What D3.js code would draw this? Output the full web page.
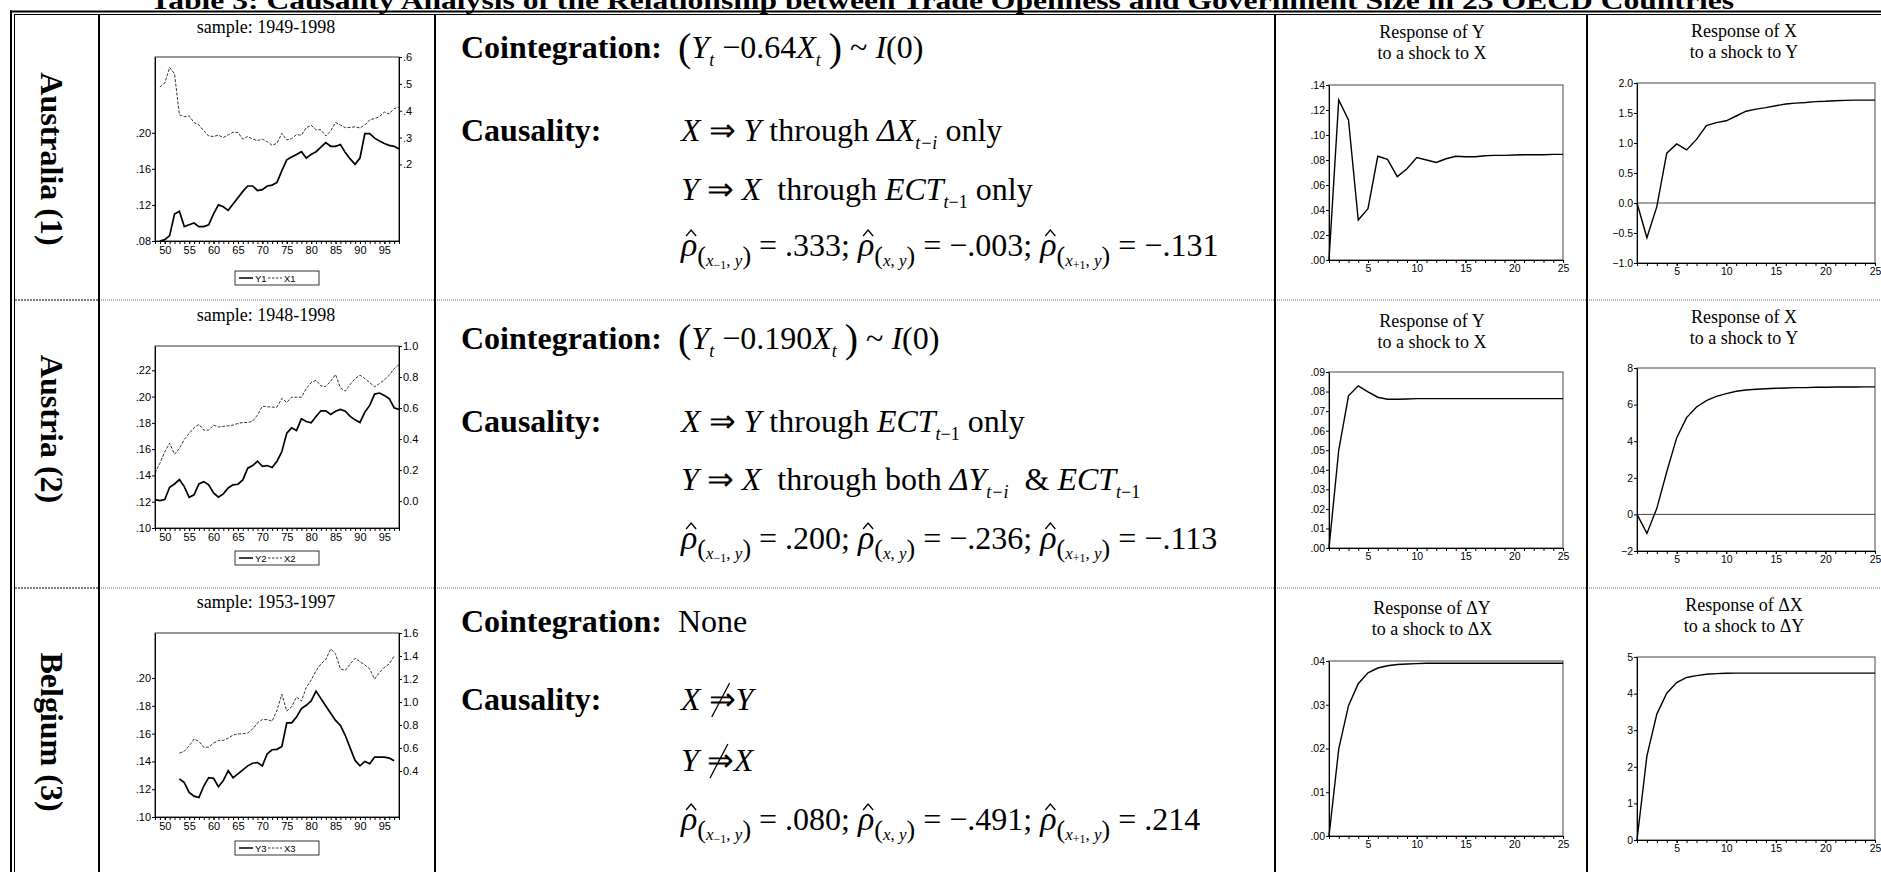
<!DOCTYPE html>
<html>
<head>
<meta charset="utf-8">
<script src="https://cdn.jsdelivr.net/npm/d3@7"></script>
<style>
body { margin: 0; background: #fff; }
text { fill: #000; }
</style>
</head>
<body>
<script>
// ---------- data ----------
const title = "Table 3:  Causality Analysis of the Relationship between Trade Openness and Government Size in 23 OECD Countries";
const countries = ["Australia (1)", "Austria (2)", "Belgium (3)"];
const samples = ["sample: 1949-1998", "sample: 1948-1998", "sample: 1953-1997"];
const startYears = [1949, 1948, 1953];
const yNames = ["Y1", "Y2", "Y3"];
const xNames = ["X1", "X2", "X3"];

// government size (left scale), trade openness (right scale)
const y1 = [.080,.0815,.086,.110,.113,.096,.098,.100,.096,.096,.098,.110,.120,.118,.114,.121,.128,.135,.141,.141,.136,.137,.141,.142,.145,.158,.170,.173,.176,.179,.172,.176,.179,.184,.189,.185,.185,.187,.178,.171,.165,.172,.199,.199,.194,.191,.188,.186,.185,.182];
const x1 = [.488,.503,.561,.538,.385,.378,.381,.356,.347,.325,.306,.304,.309,.300,.310,.320,.319,.294,.304,.294,.289,.294,.285,.271,.279,.316,.291,.296,.311,.309,.337,.346,.329,.329,.306,.325,.356,.347,.337,.338,.340,.336,.347,.366,.371,.378,.395,.388,.408,.413];
const y2 = [.1216,.1208,.1216,.131,.1335,.1368,.1315,.1234,.1252,.1335,.1353,.1328,.1267,.1234,.126,.1305,.1328,.1333,.1366,.1455,.1475,.1508,.147,.1475,.146,.1508,.1582,.1722,.1762,.1742,.1831,.181,.18,.1849,.1892,.1892,.1864,.1889,.1902,.1889,.1849,.1823,.1803,.1882,.1933,.2019,.2027,.2009,.1984,.1915,.1902];
const x2 = [.182,.244,.319,.373,.302,.340,.398,.437,.473,.495,.458,.458,.490,.478,.482,.486,.490,.501,.507,.507,.516,.555,.612,.608,.606,.606,.662,.636,.670,.670,.670,.726,.764,.779,.743,.739,.773,.816,.730,.709,.752,.790,.812,.790,.764,.737,.758,.782,.812,.854,.880];
const y3 = [.1274,.1247,.1177,.115,.114,.1223,.1283,.1278,.1218,.1262,.1334,.1283,.131,.1339,.1368,.1387,.1392,.1368,.1455,.1484,.1487,.1508,.1678,.1678,.1719,.178,.1804,.1835,.1906,.1852,.1799,.1746,.1695,.1659,.1586,.1496,.1407,.1368,.14,.1383,.1431,.1431,.1431,.1424,.1404];
const x3 = [.555,.572,.619,.678,.657,.607,.607,.643,.666,.666,.686,.713,.722,.724,.730,.765,.818,.847,.847,.833,.929,1.067,.921,.959,1.044,1.008,1.126,1.190,1.272,1.331,1.369,1.462,1.418,1.287,1.275,1.331,1.380,1.351,1.322,1.287,1.199,1.257,1.301,1.331,1.398];
const ySeries = [y1, y2, y3];
const xSeries = [x1, x2, x3];
const leftDomains = [[.08, .284], [.10, .2385], [.10, .2324]];
const rightDomains = [[-.085, .6], [-.173, 1.0], [0, 1.6]];
const leftTicks = [[.08,.12,.16,.20], [.10,.12,.14,.16,.18,.20,.22], [.10,.12,.14,.16,.18,.20]];
const rightTicks = [[.2,.3,.4,.5,.6], [0,.2,.4,.6,.8,1.0], [.4,.6,.8,1.0,1.2,1.4,1.6]];

// text column
const cointCoef = ["0.64", "0.190", null];
const rhoLag  = [".333", ".200", ".080"];
const rho0    = ["\u2212.003", "\u2212.236", "\u2212.491"];
const rhoLead = ["\u2212.131", "\u2212.113", ".214"];
const causality = [
  [[["X","i"],[" \u21D2 ","r"],["Y","i"],[" through ","r"],["\u0394X","i"],["t\u2212i","si"],[" only","r"]],
   [["Y","i"],[" \u21D2 ","r"],["X","i"],["  through ","r"],["ECT","i"],["t","si"],["\u22121","sr"],[" only","r"]]],
  [[["X","i"],[" \u21D2 ","r"],["Y","i"],[" through ","r"],["ECT","i"],["t","si"],["\u22121","sr"],[" only","r"]],
   [["Y","i"],[" \u21D2 ","r"],["X","i"],["  through both ","r"],["\u0394Y","i"],["t\u2212i","si"],["  & ","r"],["ECT","i"],["t","si"],["\u22121","sr"]]],
  [[["X","i"],[" ","r"],["\u21D2","n"],["Y","i"]],
   [["Y","i"],[" ","r"],["\u21D2","n"],["X","i"]]]
];

// impulse responses, periods 1..25
const periods = d3.range(1, 26);
const irfA = [
  [0,.128,.112,.032,.041,.083,.0805,.0667,.073,.082,.080,.078,.081,.083,.0826,.0826,.0834,.0837,.0837,.084,.0842,.0842,.0842,.0845,.0845],
  [0,.0501,.0778,.0829,.0798,.0771,.0761,.0761,.0762,.0764,.0764,.0764,.0764,.0764,.0764,.0764,.0764,.0764,.0764,.0764,.0764,.0764,.0764,.0764,.0764],
  [0,.0199,.0298,.0348,.0373,.0384,.0389,.0392,.0393,.0394,.0395,.0395,.0395,.0395,.0395,.0395,.0395,.0395,.0395,.0395,.0395,.0395,.0395,.0395,.0395]
];
const irfB = [
  [0,-.58,-.06,.83,.985,.885,1.06,1.29,1.34,1.37,1.45,1.53,1.565,1.59,1.62,1.65,1.665,1.675,1.69,1.695,1.705,1.71,1.715,1.715,1.715],
  [0,-1.04,.33,2.33,4.18,5.29,5.87,6.22,6.45,6.6,6.73,6.8,6.84,6.87,6.89,6.91,6.93,6.93,6.95,6.95,6.96,6.96,6.96,6.97,6.97],
  [0,2.3,3.44,4.01,4.3,4.44,4.49,4.53,4.545,4.555,4.56,4.56,4.56,4.56,4.56,4.56,4.56,4.56,4.56,4.56,4.56,4.56,4.56,4.56,4.56]
];
const irfADomains = [[0,.14], [0,.09], [0,.04]];
const irfBDomains = [[-1,2], [-2,8], [0,5]];
const irfATicks = [[0,.02,.04,.06,.08,.10,.12,.14], [0,.01,.02,.03,.04,.05,.06,.07,.08,.09], [0,.01,.02,.03,.04]];
const irfBTicks = [[-1,-.5,0,.5,1,1.5,2], [-2,0,2,4,6,8], [0,1,2,3,4,5]];
const irfATitles = [["Response of Y","to a shock to X"], ["Response of Y","to a shock to X"], ["Response of \u0394Y","to a shock to \u0394X"]];
const irfBTitles = [["Response of X","to a shock to Y"], ["Response of X","to a shock to Y"], ["Response of \u0394X","to a shock to \u0394Y"]];

// ---------- layout ----------
const W = 1881, H = 872;
const serif = '"Liberation Serif","Times New Roman",Times,serif';
const sans = '"Liberation Sans",Arial,Helvetica,sans-serif';
const rowSep = [300, 588];
const colLines = [99, 435, 1275, 1587];
const tsFrames = [{y0:57,y1:241}, {y0:346,y1:528}, {y0:633,y1:817}];
const legendY = [271, 551, 841];
const sampleY = [33, 321, 608];
const labelCY = [159, 429, 732];
const irfAFrames = [{y0:85,y1:260}, {y0:372,y1:548}, {y0:661,y1:836}];
const irfBFrames = [{y0:83,y1:263}, {y0:368,y1:551}, {y0:657,y1:840}];
const irfATitleY = [38, 327, 614];
const irfBTitleY = [37, 323, 611];
const textRows = [[58,141,200,256], [349,432,490,549], [632,710,771,830]];

const svg = d3.select("body").append("svg")
    .attr("width", W).attr("height", H).style("display", "block");
svg.append("rect").attr("width", W).attr("height", H).attr("fill", "#fff");

const noLead = f => v => d3.format(f)(v).replace(/^(-?)0\./, "$1.");

// title (its top is clipped in the original too)
svg.append("text").attr("x", 150).attr("y", 9)
    .attr("font-family", serif).attr("font-weight", "bold").attr("font-size", 26)
    .attr("textLength", 1584).attr("lengthAdjust", "spacingAndGlyphs")
    .text(title);

// table rules
const rules = svg.append("g");
rules.append("line").attr("x1",10).attr("x2",W).attr("y1",11.5).attr("y2",11.5).attr("stroke","#000").attr("stroke-width",2);
rules.append("line").attr("x1",14).attr("x2",W).attr("y1",14.5).attr("y2",14.5).attr("stroke","#000").attr("stroke-width",1);
rules.append("line").attr("x1",11).attr("x2",11).attr("y1",10.5).attr("y2",H).attr("stroke","#000").attr("stroke-width",2);
rules.append("line").attr("x1",14.5).attr("x2",14.5).attr("y1",14).attr("y2",H).attr("stroke","#000").attr("stroke-width",1);
rowSep.forEach(y => {
  rules.append("line").attr("x1",15).attr("x2",99).attr("y1",y).attr("y2",y)
      .attr("stroke","#000").attr("stroke-width",1.2).attr("stroke-dasharray","2,1");
  rules.append("line").attr("x1",99).attr("x2",W).attr("y1",y).attr("y2",y)
      .attr("stroke","#666").attr("stroke-width",1).attr("stroke-dasharray","1,1");
});
colLines.forEach(x => {
  rules.append("line").attr("x1",x).attr("x2",x).attr("y1",15).attr("y2",H)
      .attr("stroke","#000").attr("stroke-width",2);
});

// country labels
countries.forEach((c, r) => {
  svg.append("text")
      .attr("transform", "translate(52," + labelCY[r] + ") rotate(90)")
      .attr("text-anchor", "middle").attr("dominant-baseline", "central")
      .attr("font-family", serif).attr("font-weight", "bold").attr("font-size", 32)
      .text(c);
});

function styleAxis(g, size) {
  g.selectAll("text").attr("font-family", sans).attr("font-size", size).attr("fill", "#000");
  g.selectAll("line").attr("stroke", "#000");
  g.select(".domain").attr("stroke", "#000");
}

// ---------- time series charts ----------
function tsChart(r) {
  const f = tsFrames[r];
  const g = svg.append("g");
  const x = d3.scaleLinear().domain([1948, 1998]).range([155, 399]);
  const yl = d3.scaleLinear().domain(leftDomains[r]).range([f.y1, f.y0]);
  const yr = d3.scaleLinear().domain(rightDomains[r]).range([f.y1, f.y0]);

  g.append("rect").attr("x", 155).attr("y", f.y0).attr("width", 244).attr("height", f.y1 - f.y0)
      .attr("fill", "none").attr("stroke", "#000").attr("stroke-width", 0.8);

  g.append("g").attr("transform", "translate(0," + f.y1 + ")")
      .call(d3.axisBottom(x).tickValues(d3.range(1948, 1999)).tickSize(3).tickSizeOuter(0).tickFormat(""))
      .call(a => styleAxis(a, 11));
  g.append("g").attr("transform", "translate(0," + f.y1 + ")")
      .call(d3.axisBottom(x).tickValues(d3.range(1950, 1996, 5)).tickSize(3).tickSizeOuter(0).tickPadding(2)
            .tickFormat(d => String(d).slice(2)))
      .call(a => styleAxis(a, 11));
  g.append("g").attr("transform", "translate(155,0)")
      .call(d3.axisLeft(yl).tickValues(leftTicks[r]).tickSize(3).tickSizeOuter(0).tickPadding(1).tickFormat(noLead(".2f")))
      .call(a => styleAxis(a, 11));
  g.append("g").attr("transform", "translate(399,0)")
      .call(d3.axisRight(yr).tickValues(rightTicks[r]).tickSize(3).tickSizeOuter(0).tickPadding(1)
            .tickFormat(r === 0 ? noLead(".1f") : d3.format(".1f")))
      .call(a => styleAxis(a, 11));

  const s0 = startYears[r];
  g.append("path").datum(xSeries[r])
      .attr("d", d3.line().x((d, i) => x(s0 + i)).y(d => yr(d)))
      .attr("fill", "none").attr("stroke", "#000").attr("stroke-width", 0.8).attr("stroke-dasharray", "3,1.5");
  g.append("path").datum(ySeries[r])
      .attr("d", d3.line().x((d, i) => x(s0 + i)).y(d => yl(d)))
      .attr("fill", "none").attr("stroke", "#000").attr("stroke-width", 1.7);

  g.append("text").attr("x", 266).attr("y", sampleY[r]).attr("text-anchor", "middle")
      .attr("font-family", serif).attr("font-size", 18).text(samples[r]);

  // legend
  const ly = legendY[r];
  g.append("rect").attr("x", 235).attr("y", ly).attr("width", 84).attr("height", 14)
      .attr("fill", "none").attr("stroke", "#000").attr("stroke-width", 0.8);
  g.append("line").attr("x1", 239).attr("x2", 253).attr("y1", ly + 7).attr("y2", ly + 7)
      .attr("stroke", "#000").attr("stroke-width", 1.5);
  g.append("text").attr("x", 255).attr("y", ly + 10.5).attr("font-family", sans).attr("font-size", 9.5).text(yNames[r]);
  g.append("line").attr("x1", 268).attr("x2", 282).attr("y1", ly + 7).attr("y2", ly + 7)
      .attr("stroke", "#000").attr("stroke-width", 0.8).attr("stroke-dasharray", "2.5,1.5");
  g.append("text").attr("x", 284).attr("y", ly + 10.5).attr("font-family", sans).attr("font-size", 9.5).text(xNames[r]);
}

// ---------- impulse response charts ----------
function irfChart(f, x0, x1, vals, dom, ticks, fmt, titles, tcx, ty) {
  const g = svg.append("g");
  const x = d3.scaleLinear().domain([1, 25]).range([x0, x1]);
  const y = d3.scaleLinear().domain(dom).range([f.y1, f.y0]);
  g.append("rect").attr("x", x0).attr("y", f.y0).attr("width", x1 - x0).attr("height", f.y1 - f.y0)
      .attr("fill", "none").attr("stroke", "#666").attr("stroke-width", 1.2);
  if (dom[0] < 0) {
    g.append("line").attr("x1", x0).attr("x2", x1).attr("y1", y(0)).attr("y2", y(0))
        .attr("stroke", "#444").attr("stroke-width", 1);
  }
  g.append("g").attr("transform", "translate(0," + f.y1 + ")")
      .call(d3.axisBottom(x).tickValues(periods).tickSize(3).tickSizeOuter(0).tickFormat(""))
      .call(a => styleAxis(a, 10.5));
  g.append("g").attr("transform", "translate(0," + f.y1 + ")")
      .call(d3.axisBottom(x).tickValues([5, 10, 15, 20, 25]).tickSize(3).tickSizeOuter(0).tickPadding(2).tickFormat(d3.format("d")))
      .call(a => styleAxis(a, 10.5));
  g.append("g").attr("transform", "translate(" + x0 + ",0)")
      .call(d3.axisLeft(y).tickValues(ticks).tickSize(3).tickSizeOuter(0).tickPadding(1).tickFormat(fmt))
      .call(a => styleAxis(a, 10.5));
  g.append("path").datum(vals)
      .attr("d", d3.line().x((d, i) => x(periods[i])).y(d => y(d)))
      .attr("fill", "none").attr("stroke", "#000").attr("stroke-width", 1.4);
  titles.forEach((t, k) => {
    g.append("text").attr("x", tcx).attr("y", ty + k * 21).attr("text-anchor", "middle")
        .attr("font-family", serif).attr("font-size", 18).text(t);
  });
}

// ---------- math-ish text ----------
const ST = {
  b:  {size: 32, weight: "bold"},
  r:  {size: 32},
  i:  {size: 32, style: "italic"},
  P:  {size: 40, dy: 3},
  si: {size: 18, style: "italic", dy: 8},
  sr: {size: 18, dy: 8},
  h:  {size: 34, style: "italic", hat: true},
  sp: {size: 26, dy: 8},
  sx: {size: 17, style: "italic", dy: 10},
  ss: {size: 12, dy: 13},
  sc: {size: 17, dy: 10}
};

function writeRun(x, y, tokens) {
  let cx = x;
  tokens.forEach(([t, k]) => {
    if (k === "n") {
      const n = svg.append("text").attr("x", cx).attr("y", y)
          .attr("font-family", serif).attr("font-size", 32).text(t);
      const w = n.node().getComputedTextLength();
      svg.append("line").attr("x1", cx + w * 0.12).attr("y1", y + 7).attr("x2", cx + w * 0.78).attr("y2", y - 27)
          .attr("stroke", "#000").attr("stroke-width", 1.3);
      cx += w;
      return;
    }
    const s = ST[k];
    const n = svg.append("text").attr("x", cx).attr("y", y + (s.dy || 0))
        .attr("font-family", serif).attr("font-size", s.size)
        .attr("font-weight", s.weight || "normal").attr("font-style", s.style || "normal")
        .style("white-space", "pre").text(t);
    const w = n.node().getComputedTextLength();
    if (s.hat) {
      const c = cx + w * 0.62;
      svg.append("path").attr("d", "M" + (c - 5) + "," + (y - 20) + "L" + c + "," + (y - 26) + "L" + (c + 5) + "," + (y - 20))
          .attr("fill", "none").attr("stroke", "#000").attr("stroke-width", 1.3);
    }
    cx += w;
  });
}

function rhoTokens(r) {
  return [["\u03C1","h"],["(","sp"],["x","sx"],["\u22121","ss"],[",","sc"],[" y","sx"],[")","sp"],[" = " + rhoLag[r] + "; ","r"],
          ["\u03C1","h"],["(","sp"],["x","sx"],[", ","sc"],["y","sx"],[")","sp"],[" = " + rho0[r] + "; ","r"],
          ["\u03C1","h"],["(","sp"],["x","sx"],["+1","ss"],[",","sc"],[" y","sx"],[")","sp"],[" = " + rhoLead[r],"r"]];
}

for (let r = 0; r < 3; r++) {
  tsChart(r);
  irfChart(irfAFrames[r], 1329, 1563, irfA[r], irfADomains[r], irfATicks[r], noLead(".2f"), irfATitles[r], 1432, irfATitleY[r]);
  irfChart(irfBFrames[r], 1637, 1875, irfB[r], irfBDomains[r], irfBTicks[r],
           r === 0 ? d3.format(".1f") : d3.format("d"), irfBTitles[r], 1744, irfBTitleY[r]);

  const ty = textRows[r];
  writeRun(461, ty[0], [["Cointegration:","b"]]);
  if (cointCoef[r]) {
    writeRun(678, ty[0], [["(","P"],["Y","i"],["t","si"],[" \u2212","r"],[cointCoef[r],"r"],["X","i"],["t","si"],[" ","r"],
                          [")","P"],[" ~ ","r"],["I","i"],["(0)","r"]]);
  } else {
    writeRun(678, ty[0], [["None","r"]]);
  }
  writeRun(461, ty[1], [["Causality:","b"]]);
  writeRun(681, ty[1], causality[r][0]);
  writeRun(681, ty[2], causality[r][1]);
  writeRun(681, ty[3], rhoTokens(r));
}
</script>
</body>
</html>
